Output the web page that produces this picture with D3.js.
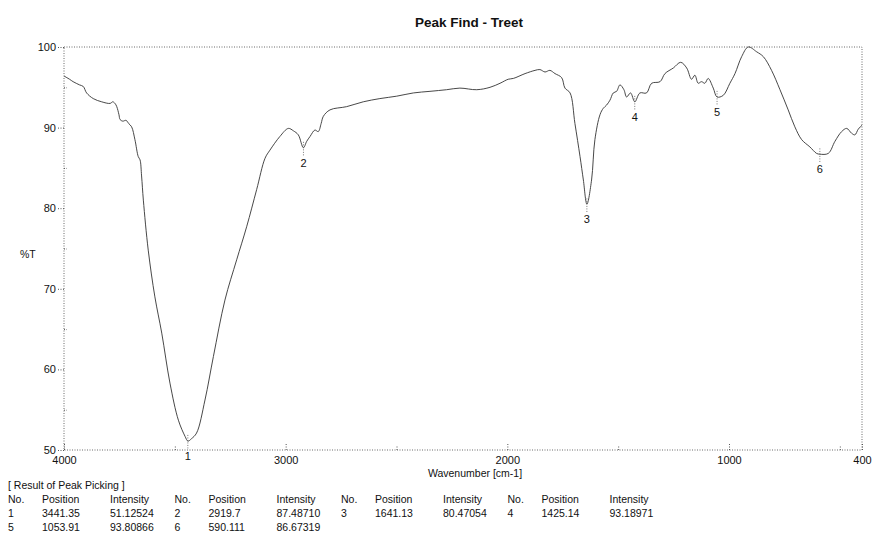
<!DOCTYPE html>
<html>
<head>
<meta charset="utf-8">
<script src="https://cdn.jsdelivr.net/npm/d3@7"></script>
<style>
  body { margin: 0; background: #fff; }
  text { font-family: "Liberation Sans", Arial, sans-serif; fill: #111; }
</style>
</head>
<body>
<div id="container"></div>
<script>
// spectrum: wavenumber (cm-1) and %T
var wavenumber = [4000, 3975, 3959, 3930, 3913, 3898, 3868, 3830, 3792, 3780, 3770, 3762, 3752, 3747, 3735, 3720, 3708, 3695, 3680, 3665,
    3657, 3650, 3642, 3620, 3590, 3559, 3522, 3484, 3454, 3441, 3425, 3402, 3364, 3326, 3274, 3221, 3176, 3131, 3093, 3071,
    3026, 2988, 2965, 2943, 2920, 2905, 2890, 2868, 2853, 2840, 2830, 2800, 2725, 2650, 2575, 2499, 2424, 2349, 2274, 2214,
    2138, 2078, 2033, 1996, 1973, 1920, 1875, 1853, 1830, 1808, 1785, 1755, 1740, 1717, 1695, 1672, 1657, 1641, 1620, 1605,
    1582, 1567, 1552, 1537, 1522, 1507, 1492, 1474, 1462, 1444, 1425, 1402, 1372, 1349, 1311, 1289, 1251, 1218, 1191, 1169,
    1154, 1139, 1124, 1109, 1094, 1071, 1054, 1026, 996, 973, 943, 913, 875, 845, 808, 770, 733, 703, 672, 635,
    605, 590, 552, 522, 492, 469, 447, 432, 417, 400];
var transmittance = [96.4, 96.0, 95.7, 95.3, 95.1, 94.3, 93.6, 93.2, 93.0, 93.2, 93.0, 92.6, 91.6, 91.0, 90.8, 90.9, 90.5, 90.1, 88.5, 86.4,
    86.0, 84.0, 81.0, 74.8, 69.0, 64.5, 58.3, 53.7, 51.7, 51.1, 51.4, 52.1, 56.2, 61.6, 68.6, 73.6, 77.7, 82.3, 86.2, 87.2,
    88.9, 89.9, 89.6, 89.1, 87.5, 88.3, 88.9, 89.7, 89.5, 90.5, 91.4, 92.2, 92.6, 93.2, 93.6, 93.9, 94.3, 94.5, 94.7, 94.9,
    94.7, 95.0, 95.5, 96.0, 96.1, 96.7, 97.1, 97.2, 96.9, 97.1, 96.7, 96.2, 94.9, 94.3, 90.5, 86.4, 83.5, 80.5, 83.5, 88.5,
    91.6, 92.4, 92.8, 93.4, 94.3, 94.5, 95.3, 94.7, 93.8, 94.3, 93.2, 94.3, 94.3, 95.5, 95.7, 96.7, 97.4, 98.1, 97.4, 96.0,
    96.5, 95.5, 95.7, 95.5, 96.1, 94.9, 93.8, 94.0, 95.5, 96.7, 98.8, 100.0, 99.4, 98.8, 97.1, 94.7, 92.2, 90.1, 88.5, 87.6,
    86.8, 86.7, 86.8, 88.3, 89.5, 89.9, 89.3, 89.1, 89.8, 90.3];

// result of peak picking
var peakNo = [1, 2, 3, 4, 5, 6];
var peakPosition = ["3441.35", "2919.7", "1641.13", "1425.14", "1053.91", "590.111"];
var peakIntensity = ["51.12524", "87.48710", "80.47054", "93.18971", "93.80866", "86.67319"];

var xTicks = [4000, 3000, 2000, 1000, 400],
    xMinor = [3500, 2500, 1500, 500],
    yTicks = [100, 90, 80, 70, 60, 50],
    yMinor = [95, 85, 75, 65, 55];

var width = 874, height = 539;
var plotLeft = 64, plotRight = 862, plotTop = 47, plotBottom = 450;

var x = d3.scaleLinear().domain([4000, 400]).range([plotLeft, plotRight]);
var y = d3.scaleLinear().domain([50, 100]).range([plotBottom, plotTop]);

var svg = d3.select("#container").append("svg")
    .attr("width", width)
    .attr("height", height)

svg.append("text")
    .attr("x", (plotLeft + plotRight) / 2 + 6)
    .attr("y", 27)
    .attr("text-anchor", "middle")
    .style("font-size", "13.5px")
    .style("font-weight", "bold")
    .text("Peak Find - Treet")

// dotted frame
svg.append("rect")
    .attr("x", plotLeft).attr("y", plotTop)
    .attr("width", plotRight - plotLeft).attr("height", plotBottom - plotTop)
    .attr("fill", "none")
    .attr("stroke", "#444")
    .attr("stroke-width", 0.8)
    .attr("stroke-dasharray", "1,1.5")

// x axis, ticks pointing up into the plot
svg.append("g")
    .attr("transform", "translate(0," + plotBottom + ")")
    .call(d3.axisBottom(x).tickValues(xTicks).tickSizeInner(-7).tickSizeOuter(0).tickPadding(6).tickFormat(d3.format("d")))
svg.append("g")
    .attr("transform", "translate(0," + plotBottom + ")")
    .call(d3.axisBottom(x).tickValues(xMinor).tickSizeInner(-4).tickSizeOuter(0).tickFormat(""))

// y axis, major ticks outside, minor inside
svg.append("g")
    .attr("transform", "translate(" + plotLeft + ",0)")
    .call(d3.axisLeft(y).tickValues(yTicks).tickSizeInner(6).tickSizeOuter(0).tickPadding(2).tickFormat(d3.format("d")))
svg.append("g")
    .attr("transform", "translate(" + plotLeft + ",0)")
    .call(d3.axisLeft(y).tickValues(yMinor).tickSizeInner(-3).tickSizeOuter(0).tickFormat(""))

svg.selectAll(".domain").remove()
svg.selectAll(".tick line")
    .attr("stroke", "#555")
    .attr("stroke-dasharray", "1,1.5")
svg.selectAll(".tick text")
    .style("font-size", "11px")
    .style("font-family", "Liberation Sans, Arial, sans-serif")
    .attr("fill", "#111")

svg.append("text")
    .attr("x", 20).attr("y", 258)
    .style("font-size", "10.5px")
    .text("%T")

svg.append("text")
    .attr("x", (plotLeft + plotRight) / 2 + 12)
    .attr("y", 477)
    .attr("text-anchor", "middle")
    .style("font-size", "10.5px")
    .text("Wavenumber [cm-1]")

// the spectrum
var points = wavenumber.map(function(w, i) { return [w, transmittance[i]] });
var line = d3.line()
    .x(function(d) { return x(d[0]) })
    .y(function(d) { return y(d[1]) })
    .curve(d3.curveCatmullRom.alpha(0.5))

svg.append("path")
    .datum(points)
    .attr("fill", "none")
    .attr("stroke", "#333")
    .attr("stroke-width", 0.9)
    .attr("d", line)

// peak markers
var peaks = peakNo.map(function(n, i) { return { no: n, pos: +peakPosition[i], val: +peakIntensity[i] } });
var marks = svg.selectAll(".peak")
    .data(peaks)
    .enter().append("g")
    .attr("class", "peak")

marks.append("line")
    .attr("x1", function(d) { return x(d.pos) })
    .attr("x2", function(d) { return x(d.pos) })
    .attr("y1", function(d) { return y(d.val) - 6 })
    .attr("y2", function(d) { return y(d.val) + 8 })
    .attr("stroke", "#555")
    .attr("stroke-width", 0.8)
    .attr("stroke-dasharray", "1,1.5")

marks.append("text")
    .attr("x", function(d) { return x(d.pos) })
    .attr("y", function(d) { return y(d.val) + 19 })
    .attr("text-anchor", "middle")
    .style("font-size", "11px")
    .text(function(d) { return d.no })

// table below the chart
var colNo = 8, colPos = 42, colInt = 110, groupStep = 166.5;
var rowY = 489, rowStep = 14;
var tbl = svg.append("g").style("font-size", "10.5px")

tbl.append("text").attr("x", colNo).attr("y", rowY).text("[ Result of Peak Picking ]")

for (var g = 0; g < 4; g++) {
    var gx = g * groupStep;
    tbl.append("text").attr("x", colNo + gx).attr("y", rowY + rowStep).text("No.")
    tbl.append("text").attr("x", colPos + gx).attr("y", rowY + rowStep).text("Position")
    tbl.append("text").attr("x", colInt + gx).attr("y", rowY + rowStep).text("Intensity")
}

tbl.selectAll(".cell")
    .data(peaks)
    .enter().append("g")
    .attr("class", "cell")
    .attr("transform", function(d, i) {
        return "translate(" + ((i % 4) * groupStep) + "," + (rowY + rowStep * (2 + Math.floor(i / 4))) + ")" })
    .each(function(d, i) {
        var c = d3.select(this);
        c.append("text").attr("x", colNo).text(d.no)
        c.append("text").attr("x", colPos).text(peakPosition[i])
        c.append("text").attr("x", colInt).text(peakIntensity[i])
    })
</script>
</body>
</html>
